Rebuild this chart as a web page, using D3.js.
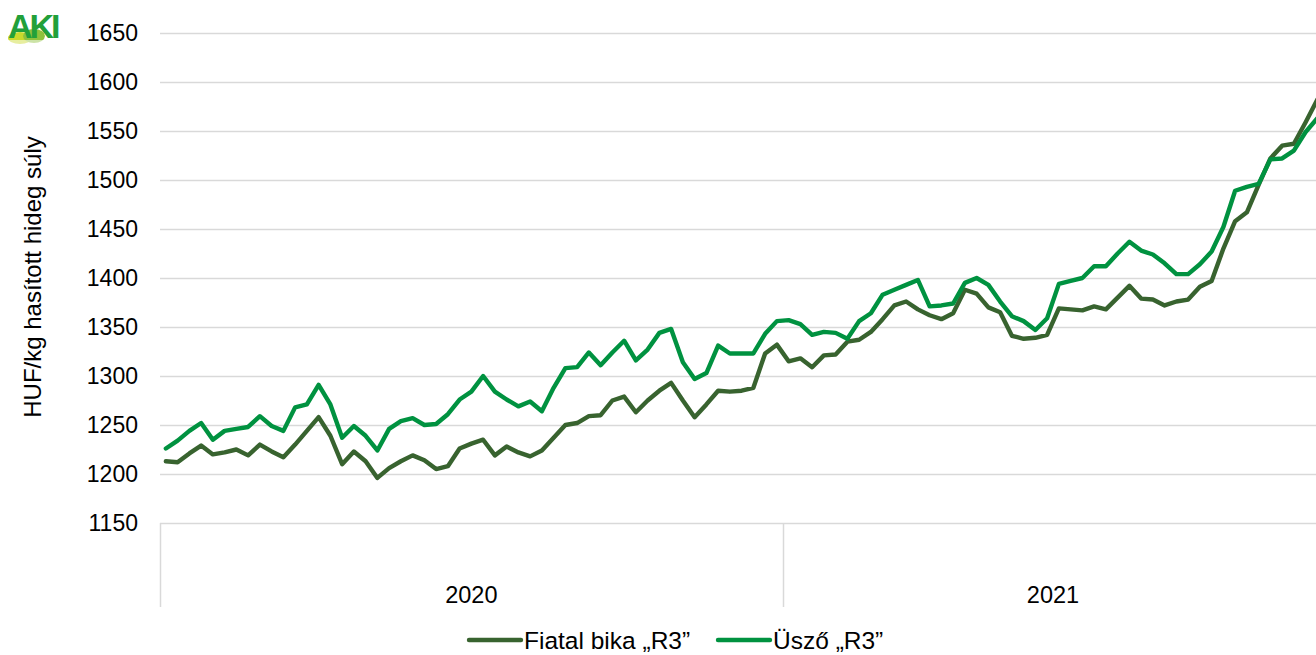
<!DOCTYPE html>
<html><head><meta charset="utf-8">
<script src="https://cdn.jsdelivr.net/npm/d3@7"></script>
<style>html,body{margin:0;padding:0;background:#fff;overflow:hidden}svg{display:block}text{font-family:"Liberation Sans",Arial,sans-serif}</style>
</head><body>
<script>
const years = ["2020", "2021"];
const weeksPerYear = [53, 46];
const yTicks = [1150,1200,1250,1300,1350,1400,1450,1500,1550,1600,1650];
const seriesNames = ["Fiatal bika „R3”", "Üsző „R3”"];
const bika = [1213,1212,1221,1229,1220,1222,1225,1219,1230,1223,1217,1230,1244,1258,1239,1210,1223,1213,1196,1206,1213,1219,1214,1205,1208,1226,1231,1235,1219,1228,1222,1218,1224,1237,1250,1252,1259,1260,1275,1279,1263,1275,1285,1293,1275,1258,1271,1285,1284,1285,1288,1323,1332,1315,1318,1309,1321,1322,1335,1337,1345,1358,1372,1376,1368,1362,1358,1364,1388,1384,1370,1365,1341,1338,1339,1342,1369,1368,1367,1371,1368,1380,1392,1379,1378,1372,1376,1378,1391,1397,1430,1458,1467,1495,1522,1535,1537,1559,1582];
const uszo = [1226,1234,1244,1252,1235,1244,1246,1248,1259,1249,1244,1268,1271,1291,1271,1237,1249,1239,1224,1246,1254,1257,1250,1251,1261,1276,1284,1300,1284,1276,1269,1274,1264,1288,1308,1309,1324,1311,1324,1336,1316,1327,1344,1348,1314,1297,1303,1331,1323,1323,1323,1343,1356,1357,1353,1342,1345,1344,1338,1356,1364,1383,1388,1393,1398,1371,1372,1374,1395,1400,1393,1376,1361,1356,1347,1359,1394,1397,1400,1412,1412,1425,1437,1428,1424,1415,1404,1404,1414,1427,1452,1489,1493,1496,1521,1522,1530,1549,1563];
const colors = ["#38632f", "#009240"];

const W = 1316, H = 655;
const svg = d3.select("body").append("svg").attr("width", W).attr("height", H);

const cats = [];
years.forEach((y, k) => { for (let w = 1; w <= weeksPerYear[k]; w++) cats.push(y + "-" + w); });

const left = 160, step = 11.75;
const x = d3.scaleBand().domain(cats).range([left, left + cats.length * step]).padding(0);
const y = d3.scaleLinear().domain([1150, 1650]).range([523, 33]);

// gridlines
svg.append("g").selectAll("line").data(yTicks).join("line")
  .attr("x1", left).attr("x2", left + cats.length * step)
  .attr("y1", d => Math.round(y(d)) + 0.5).attr("y2", d => Math.round(y(d)) + 0.5)
  .attr("stroke", "#d9d9d9").attr("stroke-width", 1.5);

// y axis labels
const yAxis = d3.axisLeft(y).tickValues(yTicks).tickFormat(d3.format("d")).tickSize(0).tickPadding(0);
const gy = svg.append("g").attr("transform", "translate(138,0)").call(yAxis);
gy.select(".domain").remove();
gy.selectAll("text").attr("font-size", 23).attr("fill", "#000")
  .attr("font-family", "'Liberation Sans',Arial,sans-serif");

// year group separators and labels
let start = 0;
const bounds = [];
years.forEach((yr, k) => {
  const first = cats[start], last = cats[start + weeksPerYear[k] - 1];
  bounds.push([x(first), x(last) + x.bandwidth(), yr]);
  start += weeksPerYear[k];
});
const sepX = [bounds[0][0], ...bounds.map(b => b[1])];
svg.append("g").selectAll("line").data(sepX).join("line")
  .attr("x1", d => Math.round(d) + 0.5).attr("x2", d => Math.round(d) + 0.5)
  .attr("y1", 523).attr("y2", 607)
  .attr("stroke", "#d9d9d9").attr("stroke-width", 1.5);
svg.append("g").selectAll("text").data(bounds).join("text")
  .attr("x", d => (d[0] + d[1]) / 2).attr("y", 603)
  .attr("text-anchor", "middle").attr("font-size", 23.5).attr("fill", "#000")
  .text(d => d[2]);

// lines
const line = d3.line().x((d, i) => x(cats[i]) + x.bandwidth() / 2).y(d => y(d));
[bika, uszo].forEach((s, k) => {
  svg.append("path").datum(s).attr("d", line)
    .attr("fill", "none").attr("stroke", colors[k]).attr("stroke-width", 4.4)
    .attr("stroke-linejoin", "round").attr("stroke-linecap", "round");
});

// y title
svg.append("text").attr("transform", "translate(41,277) rotate(-90)")
  .attr("text-anchor", "middle").attr("font-size", 24).attr("fill", "#000")
  .text("HUF/kg hasított hideg súly");

// legend
const legX = [467, 716];
const lg = svg.append("g").selectAll("g").data(seriesNames).join("g")
  .attr("transform", (d, i) => `translate(${legX[i]},640)`);
lg.append("line").attr("x1", 2).attr("x2", 54).attr("y1", 0).attr("y2", 0)
  .attr("stroke", (d, i) => colors[i]).attr("stroke-width", 4.4).attr("stroke-linecap", "round");
lg.append("text").attr("x", 57).attr("y", 8.5).attr("font-size", 24.5).attr("fill", "#000").text(d => d);

// logo
const logo = svg.append("g");
logo.append("ellipse").attr("cx", 20).attr("cy", 38).attr("rx", 12).attr("ry", 6).attr("fill", "#c9d92c");
logo.append("ellipse").attr("cx", 34).attr("cy", 36).attr("rx", 11).attr("ry", 7).attr("fill", "#8fc23c");
logo.append("rect").attr("x", 6).attr("y", 40).attr("width", 48).attr("height", 8).attr("fill", "#ffffff").attr("opacity", 0.55);
logo.append("text").attr("x", 8).attr("y", 38).attr("font-size", 34).attr("font-weight", "bold")
  .attr("letter-spacing", -3).attr("fill", "#22a03a").text("AKI");
</script>
</body></html>
